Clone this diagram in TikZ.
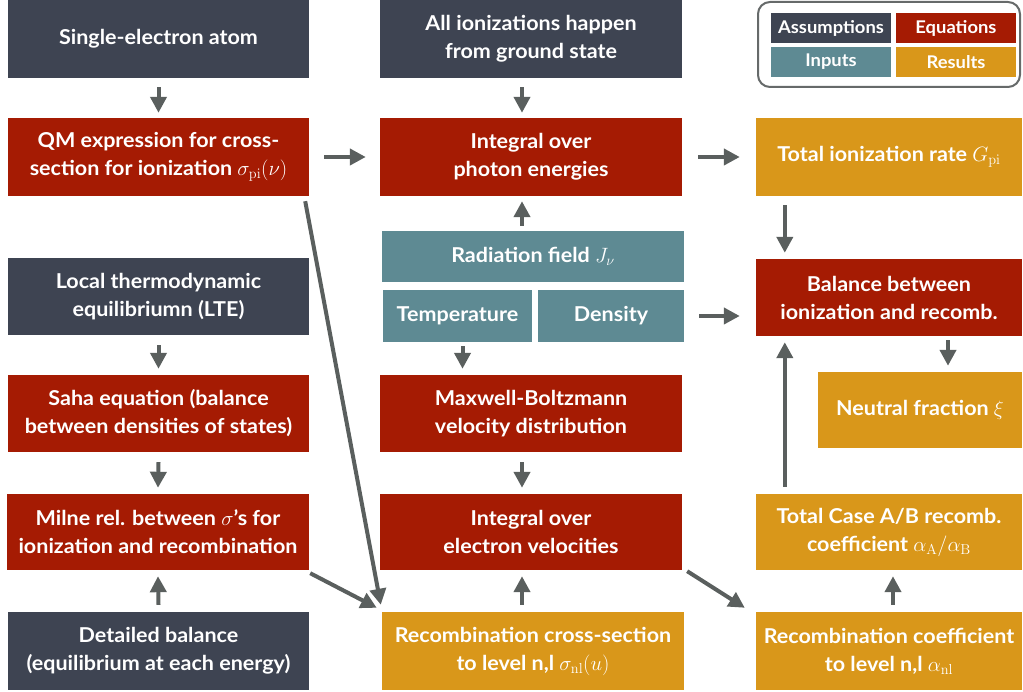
\documentclass[tikz,border=0pt]{standalone}
\usepackage[no-math]{fontspec}
\setmainfont{Lato}[FakeStretch=1.05]
\usetikzlibrary{arrows.meta,calc}
\definecolor{cdark}{HTML}{3E4452}
\definecolor{cred}{HTML}{A51B03}
\definecolor{cteal}{HTML}{5E8A93}
\definecolor{cgold}{HTML}{D9971A}
\definecolor{carrow}{HTML}{5A5F5E}
\definecolor{cframe}{HTML}{666A6A}
\tikzset{
  box/.style={inner sep=0pt, align=center, text=white,
    font=\bfseries\fontsize{20.5}{28}\selectfont},
  wh/.style 2 args={minimum width=#1pt, minimum height=#2pt},
  leg/.style={inner sep=0pt, align=center, text=white,
    minimum width=120pt, minimum height=30pt,
    font=\bfseries\fontsize{17.5}{20}\selectfont},
  arr/.style={draw=carrow, line width=4pt, -{Triangle[length=16pt,width=16pt]}},
}
\begin{document}
\begin{tikzpicture}[x=1pt,y=-1pt]
\useasboundingbox (0,0) rectangle (1023,692);
% legend
\node[draw=cframe, line width=2pt, rounded corners=12pt, fill=white,
  minimum width=262pt, minimum height=85pt, inner sep=0pt] (legend) at (889,44.5) {};
\node[leg, fill=cdark] (lassum) at (831,28) {Assumptions};
\node[leg, fill=cred] (lequ) at (956,28) {Equations};
\node[leg, fill=cteal] (linp) at (831,62) {Inputs};
\node[leg, fill=cgold] (lres) at (956,62) {Results};
% row 1
\node[box, wh={301}{78}, fill=cdark] (single) at (158.5,39) {Single-electron atom};
\node[box, wh={302}{78}, fill=cdark] (allion) at (531,39) {All ionizations happen\\from ground state};
% row 2
\node[box, wh={301}{78}, fill=cred] (qm) at (158.5,157) {QM expression for cross-\\section for ionization $\sigma_{\mathrm{pi}}(\nu)$};
\node[box, wh={302}{78}, fill=cred] (photon) at (531,157) {Integral over\\photon energies};
\node[box, wh={266}{78}, fill=cgold] (totion) at (889,157) {Total ionization rate $G_{\mathrm{pi}}$};
% inputs
\node[box, wh={302}{51}, fill=cteal] (rad) at (533,256.5) {Radiation field $J_\nu$};
\node[box, wh={149}{52}, fill=cteal] (temp) at (457.5,316) {Temperature};
\node[box, wh={146}{52}, fill=cteal] (dens) at (611,316) {Density};
% row 3
\node[box, wh={301}{77}, fill=cdark] (lte) at (158.5,296.5) {Local thermodynamic\\equilibriumn (LTE)};
\node[box, wh={266}{77}, fill=cred] (balance) at (889,297.5) {Balance between\\ionization and recomb.};
% row 4
\node[box, wh={301}{77}, fill=cred] (saha) at (158.5,413.5) {Saha equation (balance\\between densities of states)};
\node[box, wh={302}{77}, fill=cred] (maxwell) at (531,413.5) {Maxwell-Boltzmann\\velocity distribution};
\node[box, wh={204}{76}, fill=cgold] (neutral) at (920,410) {Neutral fraction $\xi$};
% row 5
\node[box, wh={302}{76}, fill=cred] (milne) at (158,532) {Milne rel. between $\sigma$'s for\\ionization and recombination};
\node[box, wh={302}{76}, fill=cred] (intel) at (531,532) {Integral over\\electron velocities};
\node[box, wh={266}{76}, fill=cgold] (totcase) at (889,532) {Total Case A/B recomb.\\coefficient $\alpha_{\mathrm{A}}/\alpha_{\mathrm{B}}$};
% row 6
\node[box, wh={301}{78}, fill=cdark] (detailed) at (158.5,651) {Detailed balance\\(equilibrium at each energy)};
\node[box, wh={302}{78}, fill=cgold] (recx) at (533,651) {Recombination cross-section\\to level n,l $\sigma_{\mathrm{nl}}(u)$};
\node[box, wh={266}{78}, fill=cgold] (reccoef) at (889,651) {Recombination coefficient\\to level n,l $\alpha_{\mathrm{nl}}$};
% arrows
\draw[arr] ($(single.south)+(0,9)$) -- ($(qm.north)+(0,-5)$);
\draw[arr] ($(allion.south)+(-9,9)$) -- ($(photon.north)+(-9,-5)$);
\draw[arr] ($(qm.east)+(15,0)$) -- ($(photon.west)+(-14,0)$);
\draw[arr] ($(photon.east)+(16,0)$) -- ($(totion.west)+(-16,0)$);
\draw[arr] ($(rad.north)+(-11,-5)$) -- ($(photon.south)+(-9,5)$);
\draw[arr] ($(totion.south west)+(29,9)$) -- ($(balance.north west)+(29,-6)$);
\draw[arr] ($(dens.east)+(15,0)$) -- ($(dens.east -| balance.west)+(-16,0)$);
\draw[arr] ($(temp.south)+(5,4)$) -- ($(temp.south |- maxwell.north)+(5,-6)$);
\draw[arr] ($(balance.south -| neutral.north)+(28,4)$) -- ($(neutral.north)+(28,-6)$);
\draw[arr] ($(lte.south)+(0,10)$) -- ($(saha.north)+(0,-6)$);
\draw[arr] ($(saha.south)+(0,10)$) -- ($(milne.north)+(0,-6)$);
\draw[arr] ($(maxwell.south)+(-9,10)$) -- ($(intel.north)+(-9,-6)$);
\draw[arr] ($(qm.south east)+(-4,5)$) -- ($(recx.north west)+(-1,-7)$);
\draw[arr] ($(milne.south east)+(1,3)$) -- ($(recx.north west)+(-5,-4)$);
\draw[arr] ($(detailed.north)+(0,-7)$) -- ($(milne.south)+(0,6)$);
\draw[arr] ($(recx.north)+(-11,-7)$) -- ($(intel.south)+(-9,6)$);
\draw[arr] ($(intel.south east)+(5,1)$) -- ($(reccoef.north west)+(-11,-4)$);
\draw[arr] ($(reccoef.north)+(4,-7)$) -- ($(totcase.south)+(4,6)$);
\draw[arr] ($(totcase.north west)+(29,-7)$) -- ($(balance.south west)+(29,6)$);
\end{tikzpicture}
\end{document}
